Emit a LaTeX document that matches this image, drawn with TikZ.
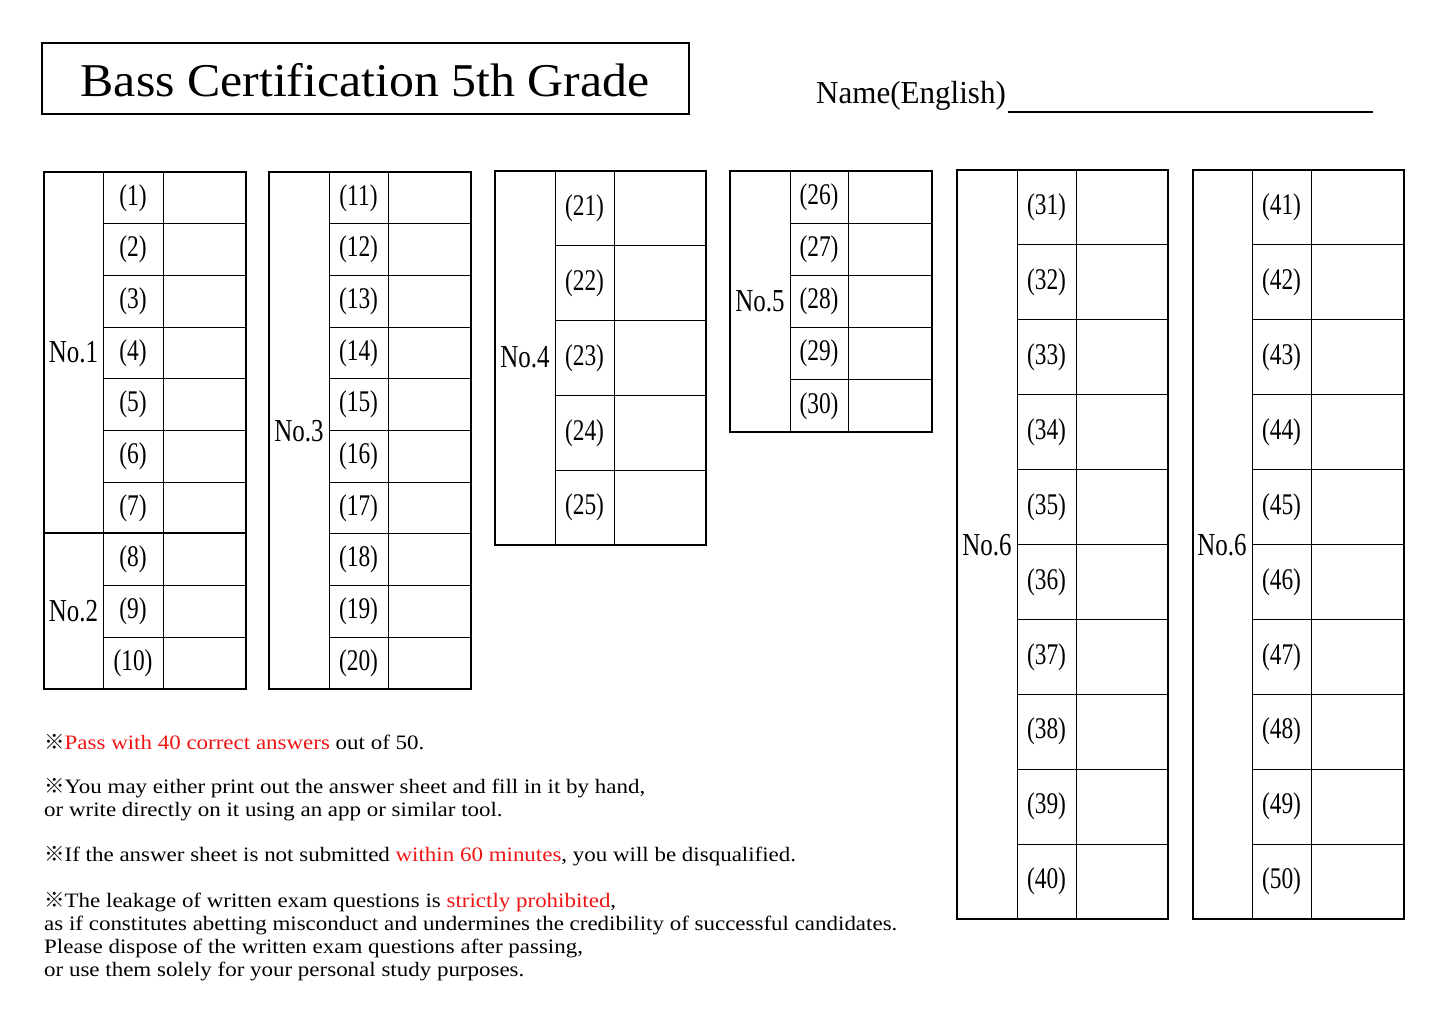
\documentclass[tikz,border=0pt]{standalone}
\usepackage{fontspec}
\setmainfont[FakeStretch=0.78]{Liberation Serif}
\newfontfamily\titlefont[FakeStretch=1.06]{Liberation Serif}
\newfontfamily\namefont[FakeStretch=0.97]{Liberation Serif}
\newfontfamily\notefont[FakeStretch=1.12]{Liberation Serif}
\newfontfamily\cjk{Noto Sans CJK JP}
\newcommand\kome{{\cjk ※}}
\begin{document}
\begin{tikzpicture}[x=1pt,y=-1pt,
  thick/.style={line width=2.6pt},
  thin/.style={line width=1pt},
  num/.style={font=\fontsize{30}{30}\selectfont,inner sep=0pt},
  lab/.style={font=\fontsize{32}{32}\selectfont,inner sep=0pt},
  note/.style={font=\notefont\fontsize{20.5}{23}\selectfont,anchor=west,inner sep=0pt,align=left}]
\useasboundingbox (0,0) rectangle (1445,1022);
\fill[white] (0,0) rectangle (1445,1022);
\definecolor{rd}{RGB}{240,20,20}
% title
\draw[thick] (42,43) rectangle (689,114);
\node[font=\titlefont\fontsize{47}{47}\selectfont,inner sep=0pt] (title) at (365,80) {Bass Certification 5th Grade};
\node[font=\namefont\fontsize{32}{32}\selectfont,anchor=west,inner sep=0pt] (name) at (816,96) {Name(English)};
\coordinate (u1) at (1008,112); \coordinate (u2) at (1373,112);
\draw[line width=1.5pt] (u1) -- (u2);
\newcommand\mytbl[9]{%
  \foreach \i in {1,...,#7}{%
    \pgfmathsetmacro\yy{#5+\i*#6}
    \draw[thin] (#2,\yy) -- (#4,\yy);
    \pgfmathtruncatemacro\nn{#8+\i-1}
    \node[num] (#9n\nn) at ({(#2+#3)/2},{#5+(\i-0.5)*#6}) {(\nn)};
  }
  \draw[thin] (#2,#5) -- (#2,{#5+#7*#6});
  \draw[thin] (#3,#5) -- (#3,{#5+#7*#6});
  \draw[thick] (#1,#5) rectangle (#4,{#5+#7*#6});
}
\mytbl{44}{103}{163}{246}{172}{51.7}{10}{1}{a}
\draw[thick] (44,533) -- (246,533);
\node[lab] (l1) at (73.5,352) {No.1};
\node[lab] (l2) at (73.5,611) {No.2};
\mytbl{269}{329}{388}{471}{172}{51.7}{10}{11}{b}
\node[lab] (l3) at (299,431) {No.3};
\mytbl{495}{555}{614}{706}{171}{74.8}{5}{21}{c}
\node[lab] (l4) at (525,357) {No.4};
\mytbl{730}{790}{848}{932}{171}{52.2}{5}{26}{d}
\node[lab] (l5) at (760,301) {No.5};
\mytbl{957}{1017}{1076}{1168}{170}{74.9}{10}{31}{e}
\node[lab] (l6) at (987,545) {No.6};
\mytbl{1193}{1252}{1311}{1404}{170}{74.9}{10}{41}{f}
\node[lab] (l7) at (1222,545) {No.6};
% notes
\node[note] (n1) at (44,742) {\kome\textcolor{rd}{Pass with 40 correct answers} out of 50.};
\node[note] (n2) at (44,800) {\kome You may either print out the answer sheet and fill in it by hand,\\or write directly on it using an app or similar tool.};
\node[note] (n3) at (44,856) {\kome If the answer sheet is not submitted \textcolor{rd}{within 60 minutes}, you will be disqualified.};
\node[note] (n4) at (44,936.5) {\kome The leakage of written exam questions is \textcolor{rd}{strictly prohibited},\\as if constitutes abetting misconduct and undermines the credibility of successful candidates.\\Please dispose of the written exam questions after passing,\\or use them solely for your personal study purposes.};
\end{tikzpicture}
\end{document}
